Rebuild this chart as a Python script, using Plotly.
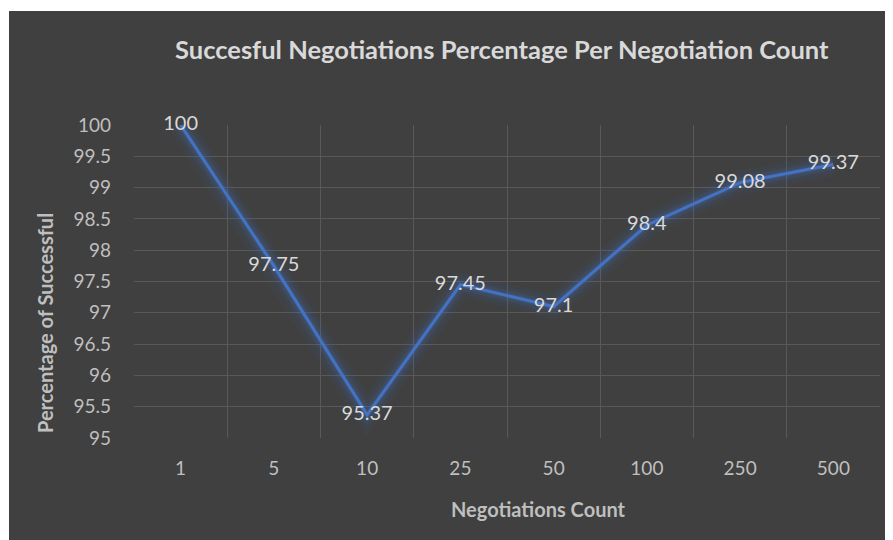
import plotly.graph_objects as go

categories = ["1", "5", "10", "25", "50", "100", "250", "500"]
success_pct = [100, 97.75, 95.37, 97.45, 97.1, 98.4, 99.08, 99.37]
labels = ["100", "97.75", "95.37", "97.45", "97.1", "98.4", "99.08", "99.37"]

title_text = "Succesful Negotiations Percentage Per Negotiation Count"
x_title = "Negotiations Count"
y_title = "Percentage of Successful"

BG = "#404040"
GRID = "#595959"
TXT = "#bfbfbf"
TXT2 = "#d9d9d9"
BLUE = "#4472C4"
FONT = "Lato"

# page body has an 8px margin; figure sized to fit the window
OFF = 8
W, H = 885, 532
L, R, T, B = 126, 13, 117, 102
pw = W - L - R
ph = H - T - B

def px2x(px):
    return (px - OFF - L) / pw

def py2y(py):
    return (H - B - (py - OFF)) / ph

fig = go.Figure()

# glow layers
for w, a in [(24, 0.05), (17, 0.08), (11, 0.12), (6, 0.18)]:
    fig.add_trace(go.Scatter(x=categories, y=success_pct, mode="lines",
                             line=dict(color=f"rgba(68,114,196,{a})", width=w),
                             hoverinfo="skip", showlegend=False))

fig.add_trace(go.Scatter(x=categories, y=success_pct, mode="lines+text",
                         line=dict(color=BLUE, width=3),
                         text=labels, textposition="middle center",
                         cliponaxis=False,
                         textfont=dict(family=FONT, size=20, color=TXT2),
                         showlegend=False))

fig.update_layout(
    width=W, height=H,
    paper_bgcolor=BG, plot_bgcolor=BG,
    margin=dict(l=L, r=R, t=T, b=B, pad=0),
    font=dict(family=FONT, color=TXT),
    xaxis=dict(type="category", range=[-0.5, 7.5], tickson="boundaries",
               showgrid=True, gridcolor=GRID, gridwidth=1, showline=False,
               zeroline=False, ticks="", ticklabelstandoff=17,
               tickfont=dict(family=FONT, size=19, color=TXT)),
    yaxis=dict(range=[95, 100], dtick=0.5, tick0=95, showgrid=True,
               gridcolor=GRID, gridwidth=1, showline=False, zeroline=False,
               ticks="", ticklabelstandoff=22,
               tickfont=dict(family=FONT, size=19, color=TXT)),
    shapes=[
        dict(type="rect", xref="paper", yref="paper",
             x0=px2x(0), x1=px2x(W + 20), y0=py2y(11), y1=py2y(0),
             fillcolor="white", line=dict(width=0), layer="above"),
        dict(type="rect", xref="paper", yref="paper",
             x0=px2x(0), x1=px2x(9), y0=py2y(H + 20), y1=py2y(0),
             fillcolor="white", line=dict(width=0), layer="above"),
    ],
    annotations=[
        dict(text=f"<b>{title_text}</b>", xref="paper", yref="paper",
             x=px2x(502), y=py2y(49), showarrow=False,
             xanchor="center", yanchor="middle",
             font=dict(family=FONT, size=25.5, color=TXT2)),
        dict(text=f"<b>{x_title}</b>", xref="paper", yref="paper",
             x=px2x(538), y=py2y(509), showarrow=False,
             xanchor="center", yanchor="middle",
             font=dict(family=FONT, size=20, color=TXT)),
        dict(text=f"<b>{y_title}</b>", xref="paper", yref="paper",
             x=px2x(45), y=py2y(323), showarrow=False, textangle=-90,
             xanchor="center", yanchor="middle",
             font=dict(family=FONT, size=20, color=TXT)),
    ],
)

fig.write_html("out.html")
